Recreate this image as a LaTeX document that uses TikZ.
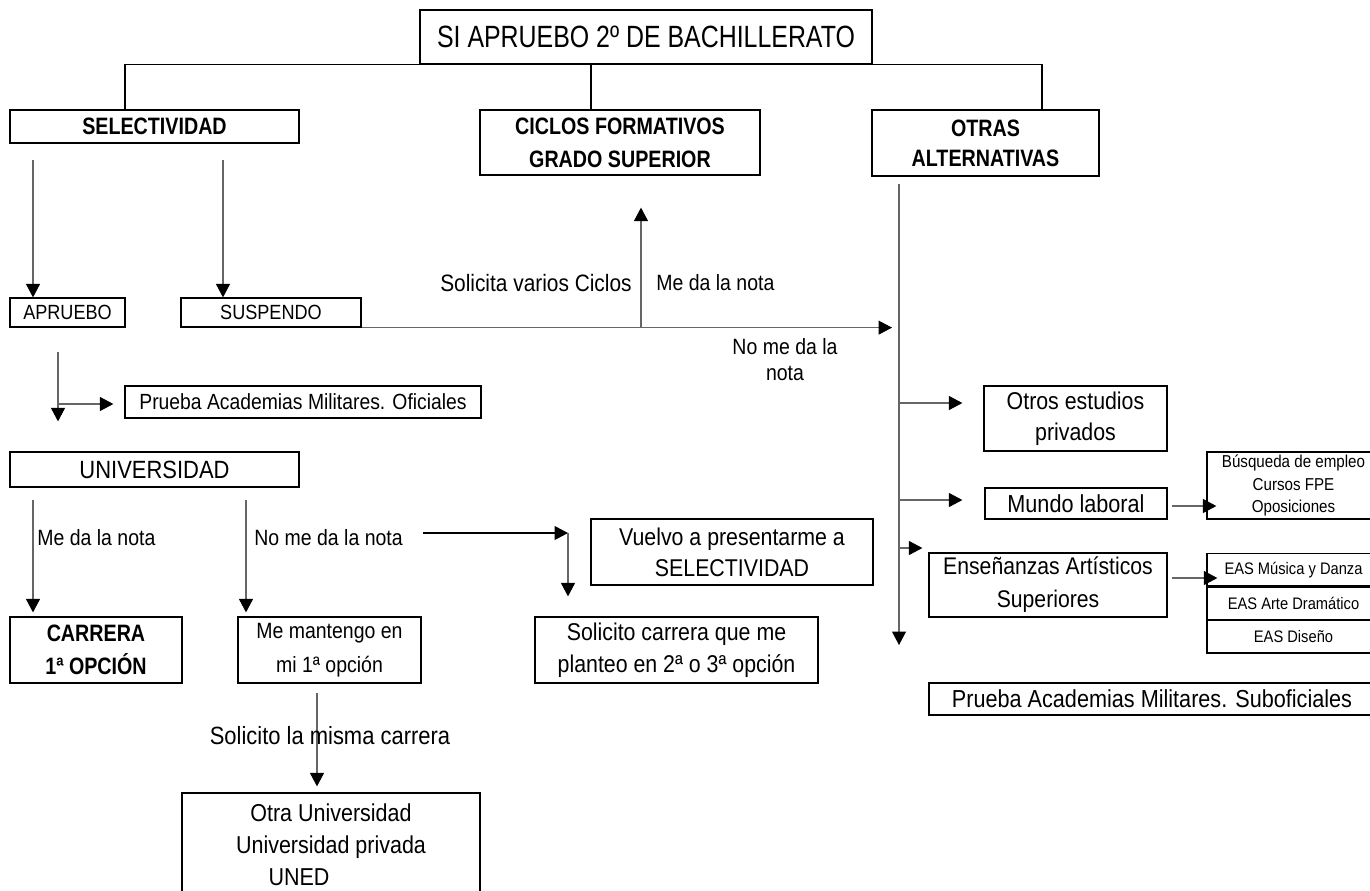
\documentclass[tikz,border=0pt]{standalone}
\usepackage{fontspec}
\setmainfont{Liberation Sans}[FakeStretch=0.88]
\newfontfamily\titlefont{Liberation Sans}[FakeStretch=0.81]
\newfontfamily\headfont{Liberation Sans}[FakeStretch=0.83]
\usetikzlibrary{arrows.meta}
\usetikzlibrary{calc}
\tikzstyle{box} = [rectangle, draw=black, line width=0.7pt, inner sep=0pt, align=center]
\tikzstyle{head} = [box, font=\headfont\bfseries\fontsize{13.5}{18.8}\selectfont]
\tikzstyle{note} = [inner sep=0pt, align=center]
\tikzstyle{conn} = [draw=black!60, line width=0.6pt]
\tikzstyle{tree} = [draw=black, line width=0.7pt]
\tikzset{>={Triangle[length=0.27cm,width=0.28cm,color=black]}}
\tikzset{sz/.style 2 args={minimum width=#1*0.02cm, minimum height=#2*0.02cm}}

\begin{document}
\begin{tikzpicture}[x=0.02cm, y=-0.02cm]
  \useasboundingbox (0,0) rectangle (1370,890);
  \clip (0,0) rectangle (1370,890);

  % top level
  \node[box, sz={452}{54}, font=\titlefont\fontsize{17.5}{20}\selectfont] (top) at (646,37) {SI APRUEBO 2º DE BACHILLERATO};
  \node[head, sz={289}{33}] (sel) at (154.5,126.5) {SELECTIVIDAD};
  \node[head, sz={280}{65}] (ciclos) at (620,142.5) {CICLOS FORMATIVOS\\GRADO SUPERIOR};
  \node[head, sz={227}{66}, font=\headfont\bfseries\fontsize{13.5}{17}\selectfont] (otras) at (985.5,143) {OTRAS\\ALTERNATIVAS};
  \draw[tree] (sel.north -| 125,0) |- (top.south) -| (otras.north -| 1042,0);
  \draw[tree] (ciclos.north -| 591,0) -- (top.south -| 591,0);

  % selectividad
  \node[box, sz={115}{29}, font=\fontsize{11.7}{14}\selectfont] (aprueba) at (67.5,312.5) {APRUEBO};
  \node[box, sz={180}{29}, font=\fontsize{11.7}{14}\selectfont] (suspende) at (271,312.5) {SUSPENDO};
  \draw[conn,->] ($(sel.south -| 33,0)+(0,16)$) -- (aprueba.north -| 33,0);
  \draw[conn,->] ($(sel.south -| 223,0)+(0,16)$) -- (suspende.north -| 223,0);

  \coordinate (alt-top) at ($(otras.south -| 899,0)+(0,7)$);
  \coordinate (alt-end) at (899,645);
  \draw[conn,->] (suspende.south east) -- ($(suspende.south east -| alt-top)+(-7,0)$);
  \draw[conn,->] (suspende.south east -| 641,0) -- ($(ciclos.south -| 641,0)+(0,32)$);
  \node[note, anchor=east, font=\fontsize{13.5}{16}\selectfont] (solciclos) at (632,283) {Solicita varios Ciclos};
  \node[note, anchor=west, font=\fontsize{12.6}{15}\selectfont] (dacic) at (656,283) {Me da la nota};
  \node[note, font=\fontsize{12.6}{14.8}\selectfont] (nodacic) at (785,360) {No me da la\\nota};

  % aprueba
  \node[box, sz={356}{32}, font=\fontsize{12.5}{15}\selectfont] (oficiales) at (303,402) {Prueba Academias Militares. Oficiales};
  \node[box, sz={289}{35}, font=\fontsize{14.2}{17}\selectfont] (univ) at (154.5,469.5) {UNIVERSIDAD};
  \coordinate (ap-mid) at (58,404);
  \draw[conn,->] ($(aprueba.south -| ap-mid)+(0,24)$) -- ($(univ.north -| ap-mid)+(0,-30)$);
  \draw[conn,->] (ap-mid) -- ($(oficiales.west |- ap-mid)+(-11,0)$);

  % universidad
  \node[head, sz={172}{66}] (carrera) at (96,650) {CARRERA\\1ª OPCIÓN};
  \node[box, sz={183}{66}, font=\fontsize{12.6}{19.3}\selectfont] (mantengo) at (329.5,650) {Me mantengo en\\mi 1ª opción};
  \draw[conn,->] ($(univ.south -| 33,0)+(0,12)$) -- ($(carrera.north -| 33,0)+(0,-4)$);
  \draw[conn,->] ($(univ.south -| 246,0)+(0,12)$) -- ($(mantengo.north -| 246,0)+(0,-4)$);
  \node[note, anchor=west, font=\fontsize{12.6}{15}\selectfont] (dauni) at (37,538) {Me da la nota};
  \node[note, anchor=west, font=\fontsize{12.6}{15}\selectfont] (nodauni) at (254,538) {No me da la nota};

  \node[box, sz={282}{66}, font=\fontsize{13.8}{17.6}\selectfont] (vuelvo) at (732,552) {Vuelvo a presentarme a\\SELECTIVIDAD};
  \node[box, sz={283}{66}, font=\fontsize{13.8}{18.2}\selectfont] (planteo) at (676.5,650) {Solicito carrera que me\\planteo en 2ª o 3ª opción};
  \coordinate (nn-start) at (423,533);
  \coordinate (nn-turn) at (568,533);
  \draw[tree, line width=0.6pt, ->] (nn-start) -- (nn-turn);
  \draw[conn,->] (nn-turn) -- ($(planteo.north -| nn-turn)+(0,-20)$);

  \node[box, sz={298}{104}, font=\fontsize{13.9}{18.2}\selectfont] (otra) at (331,845) {Otra Universidad\\Universidad privada\\UNED\hspace*{1.28cm}};
  \draw[conn,->] ($(mantengo.south -| 317,0)+(0,9)$) -- ($(otra.north -| 317,0)+(0,-6)$);
  \node[note, font=\fontsize{14.2}{17}\selectfont] (misma) at (330,736) {Solicito la misma carrera};

  % otras alternativas
  \draw[conn,->] (alt-top) -- (alt-end);
  \node[box, sz={183}{65}, font=\fontsize{13.8}{17.6}\selectfont] (otros) at (1075.5,418.5) {Otros estudios\\privados};
  \node[box, sz={182}{31}, font=\fontsize{14}{17}\selectfont] (mundo) at (1076,503.5) {Mundo laboral};
  \node[box, sz={238}{64}, font=\fontsize{13.7}{18.8}\selectfont] (ensen) at (1048,585) {Enseñanzas Artísticos\\Superiores};
  \draw[conn,->] (alt-top |- 0,403) -- ($(otros.west |- 0,403)+(-21,0)$);
  \draw[conn,->] (alt-top |- 0,500) -- ($(mundo.west |- 0,500)+(-22,0)$);
  \draw[conn,->] (alt-top |- 0,548) -- ($(ensen.west |- 0,548)+(-6,0)$);

  \node[box, sz={173}{67}, font=\fontsize{9.8}{12.8}\selectfont] (empleo) at (1293.5,485.5) {Búsqueda de empleo\\Cursos FPE\\Oposiciones};
  \node[box, sz={173}{32.3}, font=\fontsize{9.5}{11}\selectfont] (musica) at (1293.5,569.7) {EAS Música y Danza};
  \node[box, sz={173}{32.3}, font=\fontsize{9.5}{11}\selectfont, anchor=north] (arte) at (musica.south) {EAS Arte Dramático};
  \node[box, sz={173}{32.3}, font=\fontsize{9.5}{11}\selectfont, anchor=north] (diseno) at (arte.south) {EAS Diseño};
  \draw[conn,->] ($(mundo.east |- 0,506)+(4,0)$) -- ($(empleo.west |- 0,506)+(10,0)$);
  \draw[conn,->] ($(ensen.east |- 0,578)+(4,0)$) -- ($(musica.west |- 0,578)+(11,0)$);

  \node[box, sz={446}{32}, font=\fontsize{14}{17}\selectfont] (subof) at (1152,699) {Prueba Academias Militares. Suboficiales};
\end{tikzpicture}
\end{document}
